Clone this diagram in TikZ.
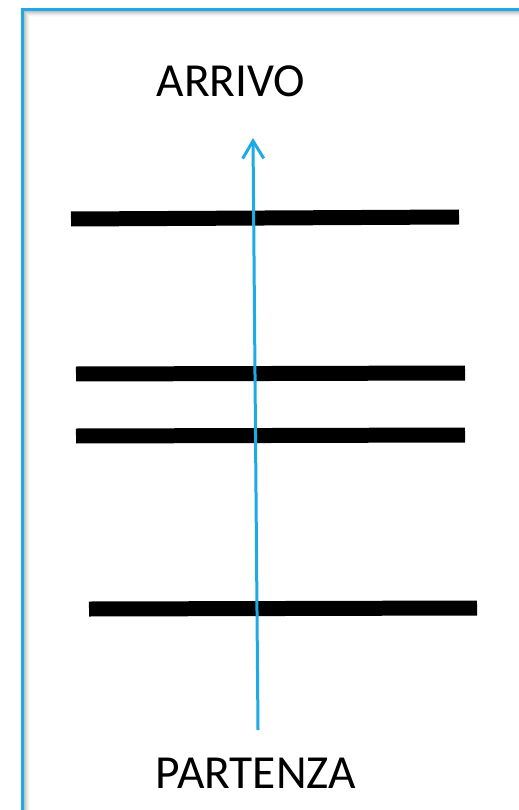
\documentclass[tikz,border=0pt]{standalone}
\usepackage{fontspec}
\setmainfont{Carlito}
\usepackage{xcolor}
\definecolor{pathblue}{RGB}{30,170,228}
\definecolor{shadowgray}{RGB}{150,150,150}
\usepackage{tikz}
\usetikzlibrary{arrows.meta}

\tikzset{
  bar/.style={line width=0.3cm, black},
  label/.style={font=\fontsize{27}{32}\selectfont, black, inner sep=0pt}
}

\begin{document}
\begin{tikzpicture}[x=0.02cm, y=-0.02cm]
      \useasboundingbox (0,0) rectangle (519,810);
      % Frame with inner shadow
      \foreach \i/\o in {1/0.6, 2/0.45, 3/0.32, 4/0.2, 5/0.1, 6/0.05}
        \draw[shadowgray, opacity=\o, line width=0.02cm] (23+\i,810) -- (23+\i,11+\i) -- (519,11+\i);
      \draw[pathblue, line width=0.06cm] (22,812) -- (22,10) -- (521,10);
      % Obstacles
      \draw[bar] (71,219) -- (459,217);
      \draw[bar] (76,374) -- (465,373);
      \draw[bar] (76,436) -- (465,435);
      \draw[bar] (89,609) -- (477,608);
      % Labels
      \node[label] (arrivo) at (231,81) {ARRIVO};
      \node[label] (partenza) at (256,773) {PARTENZA};
      % Path
      \coordinate (start) at (258,730);
      \coordinate (goal) at (253,138);
      \draw[pathblue, line width=0.06cm, -{Straight Barb[length=10pt, width=12pt]}] (start) -- (goal);
    \end{tikzpicture}
\end{document}
